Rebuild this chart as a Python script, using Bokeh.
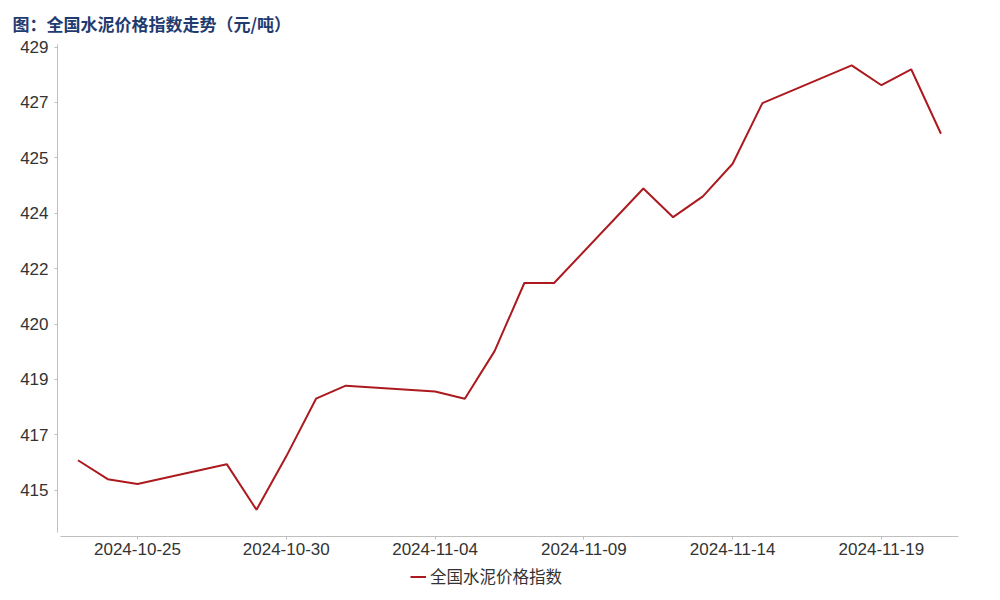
import pandas as pd
from bokeh.plotting import figure
from bokeh.layouts import column
from bokeh.models import (Range1d, FixedTicker, DatetimeTickFormatter, Legend, LegendItem)
from bokeh.embed import file_html
from bokeh.resources import INLINE

# ---- data ----
dates = ["2024-10-23", "2024-10-24", "2024-10-25", "2024-10-28", "2024-10-29",
         "2024-10-30", "2024-10-31", "2024-11-01", "2024-11-04", "2024-11-05",
         "2024-11-06", "2024-11-07", "2024-11-08", "2024-11-11", "2024-11-12",
         "2024-11-13", "2024-11-14", "2024-11-15", "2024-11-18", "2024-11-19",
         "2024-11-20", "2024-11-21"]
index_values = [416.12, 415.54, 415.39, 416.00, 414.60,
                416.24, 418.01, 418.41, 418.23, 418.01,
                419.47, 421.56, 421.56, 424.46, 423.58,
                424.22, 425.22, 427.08, 428.24, 427.63,
                428.12, 426.14]
x_tick_labels = ["2024-10-25", "2024-10-30", "2024-11-04", "2024-11-09",
                 "2024-11-14", "2024-11-19"]
y_tick_values = [415.2, 416.9, 418.6, 420.3, 422.0, 423.7, 425.4, 427.1, 428.8]
y_tick_labels = ["415", "417", "419", "420", "422", "424", "425", "427", "429"]
series_name = "全国水泥价格指数"
title_text = "图：全国水泥价格指数走势（元/吨）"

LINE_COLOR = "#AC1A1F"

x = pd.to_datetime(dates)
day = pd.Timedelta(days=1)
ref = pd.Timestamp(x_tick_labels[0])

p = figure(width=992, height=564, output_backend="svg", toolbar_location=None,
           x_axis_type="datetime",
           x_range=Range1d(ref - 2.688 * day, ref + 27.59 * day),
           y_range=Range1d(413.78, 428.88),
           min_border_left=57, min_border_right=34, min_border_top=40,
           min_border_bottom=28)

p.outline_line_color = None
p.grid.grid_line_color = None
p.background_fill_color = "white"
p.border_fill_color = "white"

r = p.line(x, index_values, line_color=LINE_COLOR, line_width=2)

# title
p.title.text = title_text
p.title.align = "left"
p.title.offset = -45
p.title.text_font = "Noto Sans CJK SC"
p.title.text_font_size = "17px"
p.title.text_font_style = "bold"
p.title.text_color = "#1F3B70"
p.title.standoff = 17

# x axis
xa = p.xaxis[0]
xa.ticker = FixedTicker(ticks=[pd.Timestamp(t).value // 10**6 for t in x_tick_labels])
fmt = "%Y-%m-%d"
xa.formatter = DatetimeTickFormatter(days=fmt, months=fmt, years=fmt, hours=fmt,
                                     minutes=fmt, seconds=fmt, milliseconds=fmt,
                                     microseconds=fmt, hourmin=fmt, minsec=fmt)
xa.bounds = (ref - 2.587 * day, ref + 27.59 * day)
xa.axis_line_color = "#BFBFBF"
xa.major_tick_line_color = "#BFBFBF"
xa.major_tick_out = 3
xa.major_tick_in = 0
xa.minor_tick_line_color = None
xa.major_label_text_font = "Liberation Sans"
xa.major_label_text_font_size = "17px"
xa.major_label_text_color = "#333333"
xa.major_label_standoff = 3

# y axis
ya = p.yaxis[0]
ya.ticker = FixedTicker(ticks=y_tick_values)
ya.major_label_overrides = {v: l for v, l in zip(y_tick_values, y_tick_labels)}
ya.bounds = (413.90, 428.88)
ya.axis_line_color = "#BFBFBF"
ya.major_tick_line_color = "#BFBFBF"
ya.major_tick_out = 3
ya.major_tick_in = 0
ya.minor_tick_line_color = None
ya.major_label_text_font = "Liberation Sans"
ya.major_label_text_font_size = "17px"
ya.major_label_text_color = "#333333"
ya.major_label_standoff = 6

# legend strip (separate small figure below the chart); its line lies outside
# the strip's visible range, so only the legend swatch shows
lg = figure(width=992, height=36, output_backend="svg", toolbar_location=None,
            x_range=Range1d(ref - 2.688 * day, ref + 27.59 * day),
            y_range=Range1d(0, 1), x_axis_type="datetime",
            x_axis_location=None, y_axis_location=None,
            min_border_left=57, min_border_top=0, min_border_right=34,
            min_border_bottom=12)
lg.outline_line_color = None
lg.grid.grid_line_color = None
lg.border_fill_color = "white"
lg_r = lg.line(x, index_values, line_color=LINE_COLOR, line_width=2)
legend = Legend(items=[LegendItem(label=series_name, renderers=[lg_r])],
                orientation="horizontal", location=(353, 0),
                border_line_color=None, background_fill_alpha=0,
                label_text_font="Noto Sans CJK SC", label_text_font_size="16.5px",
                label_text_color="#333333", glyph_width=16, glyph_height=17,
                label_height=17, label_standoff=4, padding=2, margin=0)
lg.add_layout(legend, "center")

open("out.html", "w").write(file_html(column(p, lg, spacing=0), INLINE))
